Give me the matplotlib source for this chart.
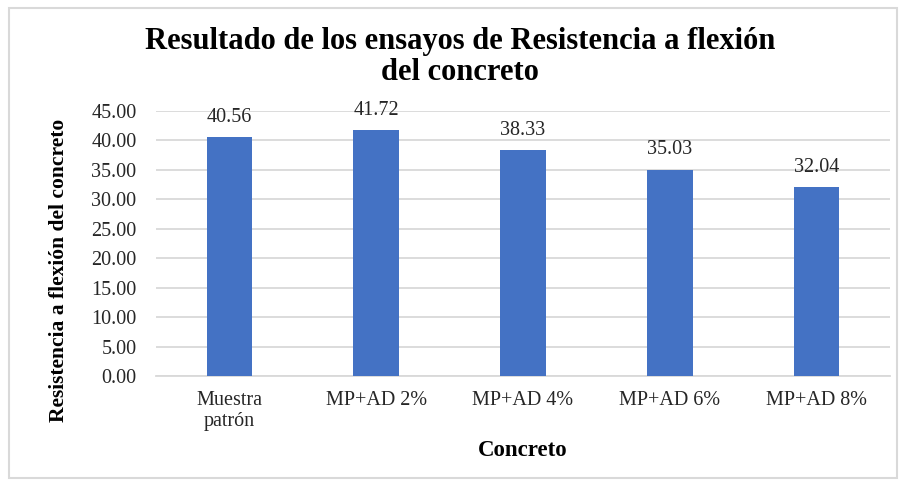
import matplotlib
matplotlib.use("Agg")
import matplotlib.pyplot as plt
from matplotlib.patches import Rectangle

categories = ["Muestra\npatrón", "MP+AD 2%", "MP+AD 4%", "MP+AD 6%", "MP+AD 8%"]
values = [40.56, 41.72, 38.33, 35.03, 32.04]
yticks = [0, 5, 10, 15, 20, 25, 30, 35, 40, 45]

plt.rcParams['font.family'] = ['Liberation Serif', 'DejaVu Serif']

W, H = 902, 484
fig = plt.figure(figsize=(W/100, H/100), dpi=100)
L, R, T, B = 156, 890, 111, 376
ax = fig.add_axes([L/W, 1-B/H, (R-L)/W, (B-T)/H])

x = list(range(len(categories)))
ax.bar(x, values, width=0.31, color="#4472C4", zorder=3)
for xi, v in zip(x, values):
    ax.annotate(f"{v:.2f}", (xi, v), xytext=(0, 20), textcoords="offset pixels",
                ha="center", va="center", fontsize=14.5, color="#262626")

ax.set_xlim(-0.5, len(categories) - 0.5)
ax.set_ylim(0, 45)
ax.set_yticks(yticks)
ax.set_yticklabels([f"{t:.2f}" for t in yticks], fontsize=14.5)
ax.set_xticks(x)
ax.set_xticklabels(categories, fontsize=14.5, linespacing=1.1)
ax.grid(axis="y", color="#d9d9d9", linewidth=1.3, zorder=0)
for s in ["top", "right", "left"]:
    ax.spines[s].set_visible(False)
ax.spines["bottom"].set_color("#d9d9d9")
ax.spines["bottom"].set_linewidth(1.3)
ax.tick_params(axis="both", length=0, colors="#262626")
ax.tick_params(axis="x", pad=11)
ax.tick_params(axis="y", pad=14)

ax.set_xlabel("Concreto", fontsize=16.5, fontweight="bold", va="center", ha="center")
ax.xaxis.set_label_coords(0.5, (B-450)/(B-T))
ax.set_ylabel("Resistencia a flexión del concreto", fontsize=15.5, fontweight="bold",
              va="center", ha="center")
ax.yaxis.set_label_coords((59-L)/(R-L), (B-270)/(B-T))

fig.text(460/W, 1-57/H, "Resultado de los ensayos de Resistencia a flexión\ndel concreto",
         ha="center", va="center", fontsize=22, fontweight="bold", linespacing=1.1)

fig.patches.append(Rectangle((9/W, 1-478/H), (897-9)/W, (478-8)/H, transform=fig.transFigure,
                             fill=False, edgecolor="#d9d9d9", linewidth=1.5))

fig.savefig("out.png", dpi=100)
